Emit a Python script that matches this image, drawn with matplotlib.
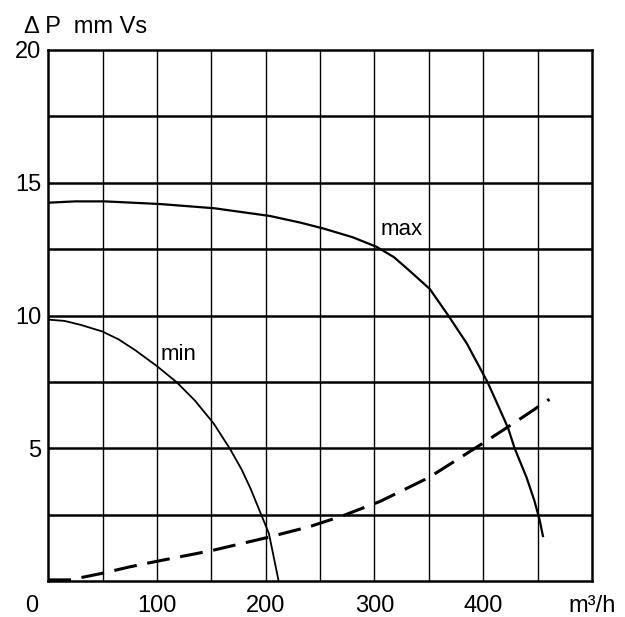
import matplotlib
matplotlib.use("Agg")
import matplotlib.pyplot as plt
from matplotlib.transforms import blended_transform_factory, offset_copy

plt.rcParams['font.family'] = ['Liberation Sans', 'DejaVu Sans']

# ---- data ----
max_q = [0, 25, 52, 103, 153, 204, 232, 253, 280, 302, 318, 332, 351, 368, 385, 404, 415, 423, 429, 440, 447, 452, 455]
max_dp = [14.25, 14.3, 14.3, 14.2, 14.04, 13.75, 13.5, 13.28, 12.95, 12.59, 12.2, 11.7, 11.0, 10.0, 8.95, 7.5, 6.5, 5.76, 5.0, 3.9, 3.05, 2.3, 1.7]

min_q = [0, 15, 30, 50, 65, 80, 100, 118, 135, 152, 167, 178, 186, 196, 203, 212]
min_dp = [9.85, 9.8, 9.65, 9.4, 9.1, 8.7, 8.1, 7.5, 6.8, 5.95, 5.0, 4.2, 3.5, 2.5, 1.8, 0.0]

sys_q = [0, 20, 50, 75, 100, 150, 200, 240, 270, 305, 350, 400, 430, 461]
sys_dp = [0.05, 0.05, 0.3, 0.54, 0.75, 1.15, 1.63, 2.05, 2.45, 3.0, 3.9, 5.2, 6.0, 6.85]

x_ticks = [0, 100, 200, 300, 400]
x_tick_labels = ["0", "100", "200", "300", "400"]
x_unit = "m³/h"
y_ticks = [5, 10, 15, 20]
y_tick_labels = ["5", "10", "15", "20"]
y_title = "Δ P  mm Vs"
curve_labels = ["max", "min"]

fig = plt.figure(figsize=(6.25, 6.17), dpi=100)
ax = fig.add_axes([0.077, 0.058, 0.870, 0.861])
ax.set_xlim(0, 500)
ax.set_ylim(0, 20)

# grid
for xv in range(50, 500, 50):
    ax.axvline(xv, color='black', lw=1.0, zorder=1)
for yv in [2.5, 5, 7.5, 10, 12.5, 15, 17.5]:
    ax.axhline(yv, color='black', lw=1.8, zorder=1)
for s in ax.spines.values():
    s.set_linewidth(1.8)

ax.plot(max_q, max_dp, color='black', lw=1.6, zorder=3)
ax.plot(min_q, min_dp, color='black', lw=1.3, zorder=3)
ax.plot(sys_q, sys_dp, color='black', lw=2.2, dashes=(7.5, 3.5), zorder=3)

ax.text(306, 13.25, curve_labels[0], fontsize=16, va='center', ha='left',
        bbox=dict(facecolor='white', edgecolor='none', pad=0.5), zorder=2)
ax.text(103, 8.55, curve_labels[1], fontsize=16, va='center', ha='left',
        bbox=dict(facecolor='white', edgecolor='none', pad=0.5), zorder=2)

ax.set_xticks([])
ax.set_yticks(y_ticks)
ax.set_yticklabels(y_tick_labels, fontsize=17)
ax.tick_params(axis='y', length=0, pad=5)

trans = blended_transform_factory(ax.transData, ax.transAxes)
trans = offset_copy(trans, fig=fig, x=0, y=-25, units='dots')
for xv, lab in zip(x_ticks, x_tick_labels):
    dx = -15 if xv == 0 else 0
    ax.text(xv + dx, 0, lab, transform=trans, ha='center', va='center', fontsize=17)
ax.text(500, 0, x_unit, transform=trans, ha='center', va='center', fontsize=17)

fig.text(24 / 625, 1 - 27 / 617, y_title, ha='left', va='center', fontsize=17)

fig.savefig("out.png", dpi=100)
